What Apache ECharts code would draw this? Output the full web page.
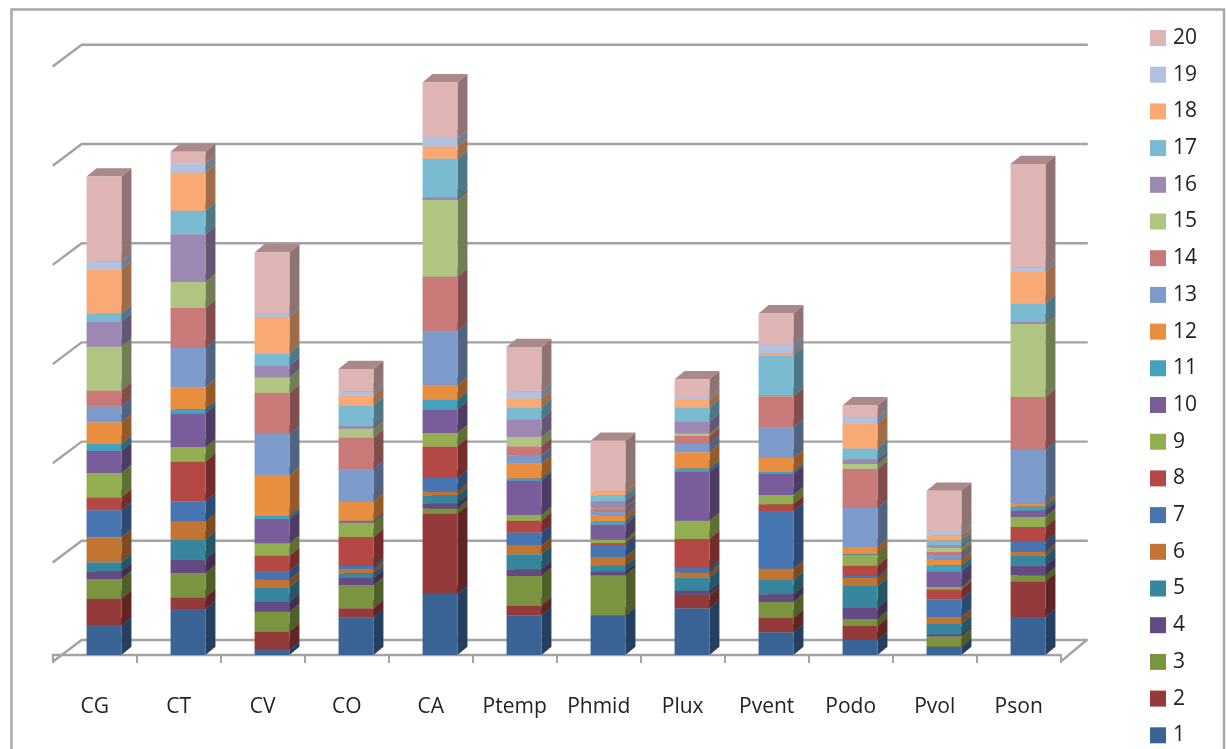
<!DOCTYPE html>
<html>
<head>
<meta charset="utf-8">
<script src="https://cdn.jsdelivr.net/npm/echarts@6/dist/echarts.min.js"></script>
<style>
html,body{margin:0;padding:0;background:#fff;overflow:hidden}
#main{width:1226px;height:749px}
#main canvas{filter:blur(0.55px)}
</style>
</head>
<body>
<div id="main"></div>
<script>
const categories = ['CG','CT','CV','CO','CA','Ptemp','Phmid','Plux','Pvent','Podo','Pvol','Pson'];
const seriesNames = ['1','2','3','4','5','6','7','8','9','10','11','12','13','14','15','16','17','18','19','20'];
const gridLevels = [0, 99.2, 198.4, 297.6, 396.8, 496, 595.2];

const s1  = [29.3, 46, 5.3, 37.7, 61, 39.7, 39.3, 46.7, 22.7, 15, 8, 38];
const s2  = [27, 11.7, 18, 9, 80.3, 9.7, 0.3, 13.3, 14.3, 14, 0.3, 35.7];
const s3  = [19.7, 24, 20, 23, 5.3, 29.7, 40, 0.3, 16, 7, 10.3, 6];
const s4  = [7.7, 14, 10, 7.3, 5, 6.7, 3.7, 4, 7.7, 11.3, 2, 9.7];
const s5  = [9, 19.7, 14.3, 4.7, 8, 15, 6, 13.3, 14.3, 21.7, 10.7, 9.7];
const s6  = [25, 18, 7.7, 4.3, 4, 8.7, 8.7, 5, 11.3, 8, 6.7, 4];
const s7  = [27, 20.3, 8.7, 3.3, 13.7, 13, 12, 4.3, 57.7, 2.3, 17.7, 10];
const s8  = [12.7, 39.7, 15.3, 28.7, 31.3, 11.7, 1.7, 29, 6.7, 10, 10, 15];
const s9  = [24.7, 14.3, 12.3, 14.3, 13.3, 5.7, 3.7, 18.3, 9.3, 11, 2.3, 10];
const s10 = [22, 34, 24.3, 1.3, 23.7, 34.3, 15, 49, 21, 0.3, 15.7, 6.3];
const s11 = [7, 4, 3, 0.7, 9.7, 2.3, 3, 3.3, 2, 0.3, 6, 4];
const s12 = [21.7, 22, 40.7, 19, 14.3, 15, 6.3, 16.3, 14, 7, 5.7, 3.3];
const s13 = [15.7, 39.6, 41.3, 32.3, 54.6, 8.3, 3.7, 8.3, 31, 39.3, 5, 53.3];
const s14 = [16, 39.7, 41, 31.7, 54, 9, 3, 8, 30.7, 38.7, 2.7, 53];
const s15 = [43.7, 26, 15.7, 9, 76.7, 9, 1, 2.7, 0.3, 5, 4.3, 73];
const s16 = [25.3, 47.7, 12, 2.7, 2.7, 18, 6.3, 11.7, 0.3, 4.7, 2, 2];
const s17 = [8.3, 23.6, 12, 20.7, 38.6, 12, 5.7, 14.3, 40.3, 11, 5, 18.7];
const s18 = [44, 38, 36.6, 10, 12.4, 8.7, 4.3, 7.3, 1.7, 25, 5.3, 31.3];
const s19 = [7.7, 9.4, 3, 4, 8.3, 6.7, 0.3, 3, 9, 5.7, 3.3, 4.3];
const s20 = [85, 11.6, 61.4, 22.3, 55.7, 44.7, 50.3, 17.7, 31.3, 12.3, 41.3, 103.7];
const seriesValues = [s1,s2,s3,s4,s5,s6,s7,s8,s9,s10,s11,s12,s13,s14,s15,s16,s17,s18,s19,s20];

const colors = ['#3A6396','#953A3A','#7A9440','#644A82','#38869E','#C27533','#4775B2','#B44845','#92AE50','#795C9A',
                '#45A1BE','#E98D3E','#7D9BCA','#C97978','#AFC581','#9D88B3','#7ABBD1','#F9A974','#B2C1DD','#DFB4B4'];

const GRID_LINE = '#a3a3a3';
const DX = 10, DY = 8.3;
const WALL_DX = 29, WALL_UP = 15, WALL_DOWN = 6.7, WALL_END = 1035;

function shade(hex, k) {
  const n = parseInt(hex.slice(1), 16);
  const ch = (s) => Math.round(((n >> s) & 255) * k);
  return 'rgb(' + ch(16) + ',' + ch(8) + ',' + ch(0) + ')';
}

function renderWall(params, api) {
  const v = api.value(0);
  const p = api.coord([0, v]);
  const x0 = params.coordSys.x, y = p[1];
  const style = {stroke: GRID_LINE, lineWidth: 2.4, fill: null};
  const children = [{type:'polyline', shape:{points:[[x0, y+WALL_DOWN],[x0+WALL_DX, y-WALL_UP],[x0+WALL_END, y-WALL_UP]]}, style}];
  if (v === 0) {
    children.push({type:'line', shape:{x1:x0+params.coordSys.width, y1:y+WALL_DOWN, x2:x0+params.coordSys.width+26, y2:y-WALL_UP}, style});
  }
  return {type:'group', children};
}

function renderBlock(params, api) {
  const c = api.value(0), lo = api.value(1), hi = api.value(2);
  const base = api.coord([c, lo]), top = api.coord([c, hi]);
  const band = api.size([1, 0])[0];
  const w = band * 0.415;
  const x0 = base[0] + 9.3 - w / 2, x1 = x0 + w;
  const yb = base[1], yt = top[1];
  const col = colors[params.seriesIndex - 1];
  return {type:'group', children:[
    {type:'polygon', shape:{points:[[x1,yb],[x1+DX,yb-DY],[x1+DX,yt-DY],[x1,yt]]}, style:{fill:shade(col,0.64)}},
    {type:'polygon', shape:{points:[[x0,yt],[x0+DX,yt-DY],[x1+DX,yt-DY],[x1,yt]]}, style:{fill:shade(col,0.76)}},
    {type:'rect', shape:{x:x0, y:yt, width:w, height:yb-yt}, style:{fill:col}}
  ]};
}

const cumulative = categories.map(() => 0);
const barSeries = seriesNames.map((name, i) => {
  const data = seriesValues[i].map((v, c) => {
    const lo = cumulative[c];
    cumulative[c] = lo + v;
    return [c, lo, lo + v];
  });
  return {name, type:'custom', renderItem:renderBlock, data,
          encode:{x:0, y:[1,2]}, itemStyle:{color:colors[i]}, silent:true, animation:false};
});

const chart = echarts.init(document.getElementById('main'));
chart.setOption({
  animation:false,
  backgroundColor:'#fff',
  textStyle:{fontFamily:'"Open Sans"'},
  graphic:[{type:'polyline', silent:true, z:-1,
            shape:{points:[[11.5,749],[11.5,9.5],[1224,9.5],[1224,749]]},
            style:{stroke:'#a8a8a8', lineWidth:2.5, fill:null}}],
  grid:{left:52.7, width:1008, top:59.8, height:595.2},
  legend:{orient:'vertical', left:1150, top:27.5, padding:0, itemWidth:16, itemHeight:16, itemGap:15.7,
          height:730, icon:'rect', data:seriesNames.slice().reverse(), selectedMode:false,
          textStyle:{fontFamily:'"Open Sans"', fontSize:21, lineHeight:21, color:'#222', padding:[0,0,0,2]}},
  xAxis:{type:'category', data:categories, offset:6.7,
         axisLine:{lineStyle:{color:GRID_LINE, width:2.4}},
         axisTick:{show:true, length:8, lineStyle:{color:GRID_LINE, width:2}},
         axisLabel:{interval:0, margin:35, fontFamily:'"Open Sans"', fontSize:21, color:'#222'}},
  yAxis:{type:'value', min:0, max:595.2, interval:99.2, show:false, splitLine:{show:false}},
  series:[{name:'wall', type:'custom', renderItem:renderWall, data:gridLevels.map(v => [v]),
           encode:{y:0}, silent:true, animation:false}].concat(barSeries)
});
</script>
</body>
</html>
